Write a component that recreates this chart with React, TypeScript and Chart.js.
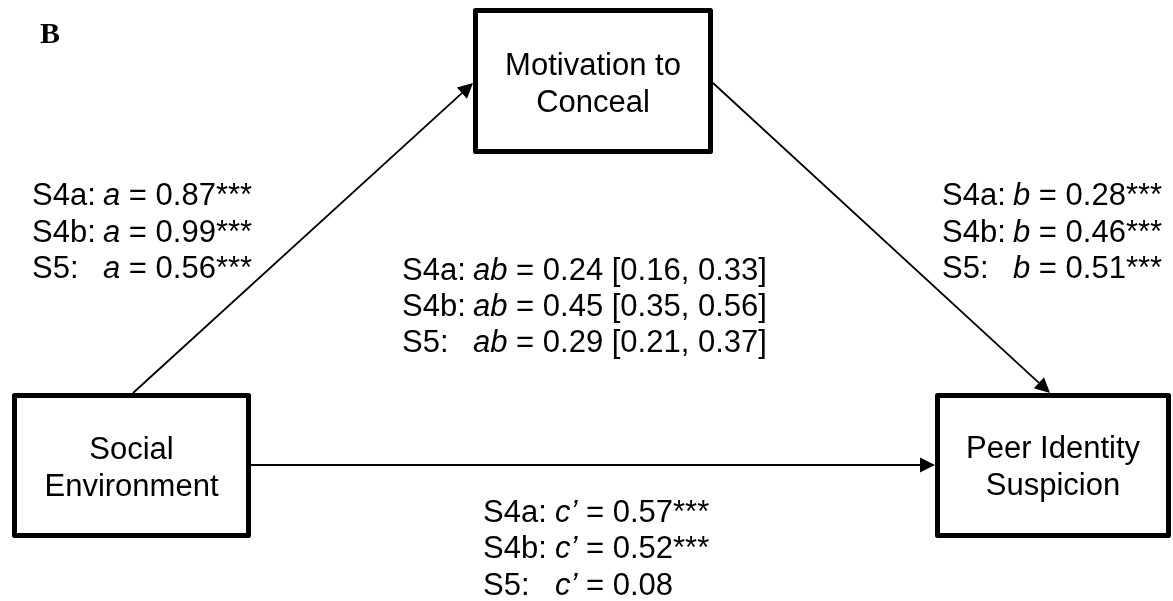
import React, { useEffect, useRef } from "react";
import { Chart, registerables } from "chart.js";

Chart.register(...registerables);

// ---- data ----
const studies = ["S4a", "S4b", "S5"];
const aValues = [0.87, 0.99, 0.56];
const aSig = ["***", "***", "***"];
const bValues = [0.28, 0.46, 0.51];
const bSig = ["***", "***", "***"];
const abValues = [0.24, 0.45, 0.29];
const abLower = [0.16, 0.35, 0.21];
const abUpper = [0.33, 0.56, 0.37];
const cValues = [0.57, 0.52, 0.08];
const cSig = ["***", "***", ""];
const nodeLabels = [
  ["Motivation to", "Conceal"],
  ["Social", "Environment"],
  ["Peer Identity", "Suspicion"],
];
const panelLabel = "B";

// ---- layout (data units == pixels on a 1173x601 scale) ----
const W = 1173;
const H = 601;
const boxes = [
  { x1: 475.5, y1: 10.5, x2: 710.5, y2: 151.5, ty: [75, 112] },
  { x1: 14.5, y1: 395.5, x2: 248.5, y2: 535.5, ty: [459, 496] },
  { x1: 937.5, y1: 395.5, x2: 1168.5, y2: 535.5, ty: [458, 495] },
];
const arrows = [
  { from: [133, 393], to: [473, 83] },
  { from: [713, 83], to: [1050, 393] },
  { from: [251, 465], to: [935, 465] },
];
const FONT = "Arial, 'Liberation Sans', sans-serif";
const FS = 31;

function fmt(v: number) {
  return v.toFixed(2);
}

export default function App() {
  const ref = useRef<HTMLCanvasElement>(null);
  useEffect(() => {
    if (!ref.current) return;
    const diagram = {
      id: "diagram",
      afterDraw(chart: any) {
        const ctx = chart.ctx as CanvasRenderingContext2D;
        const xs = chart.scales.x;
        const ys = chart.scales.y;
        const px = (v: number) => xs.getPixelForValue(v);
        const py = (v: number) => ys.getPixelForValue(v);

        const text = (t: string, x: number, y: number, font: string, align: CanvasTextAlign = "left") => {
          ctx.save();
          ctx.font = font;
          ctx.fillStyle = "#000";
          ctx.textBaseline = "alphabetic";
          ctx.textAlign = align;
          ctx.fillText(t, x, y);
          const w = ctx.measureText(t).width;
          ctx.restore();
          return w;
        };
        const normal = `${FS}px ${FONT}`;
        const italic = `italic ${FS}px ${FONT}`;

        // panel label
        text(panelLabel, px(40), py(43), "bold 30px 'Liberation Serif', 'Times New Roman', serif");

        // boxes
        boxes.forEach((b, i) => {
          ctx.save();
          ctx.lineWidth = 5;
          ctx.strokeStyle = "#000";
          ctx.lineJoin = "round";
          ctx.strokeRect(px(b.x1), py(b.y1), px(b.x2) - px(b.x1), py(b.y2) - py(b.y1));
          ctx.restore();
          const cx = (px(b.x1) + px(b.x2)) / 2;
          nodeLabels[i].forEach((ln, j) => text(ln, cx, py(b.ty[j]), normal, "center"));
        });

        // arrows
        arrows.forEach((a) => {
          const x0 = px(a.from[0]), y0 = py(a.from[1]);
          const x1 = px(a.to[0]), y1 = py(a.to[1]);
          const ang = Math.atan2(y1 - y0, x1 - x0);
          const L = 15, HW = 7.5;
          const bx = x1 - L * Math.cos(ang), by = y1 - L * Math.sin(ang);
          ctx.save();
          ctx.strokeStyle = "#000";
          ctx.lineWidth = 1.8;
          ctx.beginPath();
          ctx.moveTo(x0, y0);
          ctx.lineTo(bx, by);
          ctx.stroke();
          ctx.fillStyle = "#000";
          ctx.beginPath();
          ctx.moveTo(x1, y1);
          ctx.lineTo(bx + HW * Math.sin(ang), by - HW * Math.cos(ang));
          ctx.lineTo(bx - HW * Math.sin(ang), by + HW * Math.cos(ang));
          ctx.closePath();
          ctx.fill();
          ctx.restore();
        });

        // coefficient labels
        const block = (x0: number, off: number, baselines: number[], sym: string, rest: (i: number) => string) => {
          studies.forEach((s, i) => {
            const y = py(baselines[i]);
            text(s + ":", px(x0), y, normal);
            const xi = px(x0 + off);
            const w = text(sym, xi, y, italic);
            text(" " + rest(i), xi + w, y, normal);
          });
        };
        block(32, 71, [205, 242, 278], "a", (i) => `= ${fmt(aValues[i])}${aSig[i]}`);
        block(942, 71, [205, 242, 278], "b", (i) => `= ${fmt(bValues[i])}${bSig[i]}`);
        block(402, 71, [280, 316, 352], "ab", (i) => `= ${fmt(abValues[i])} [${fmt(abLower[i])}, ${fmt(abUpper[i])}]`);
        block(483, 72, [522, 558, 595], "c\u2019", (i) => `= ${fmt(cValues[i])}${cSig[i]}`);
      },
    };

    const chart = new Chart(ref.current, {
      type: "scatter",
      data: {
        datasets: [
          {
            data: boxes.map((b) => ({ x: (b.x1 + b.x2) / 2, y: (b.y1 + b.y2) / 2 })),
            pointRadius: 0,
          },
        ],
      },
      options: {
        animation: false,
        responsive: false,
        events: [],
        layout: { padding: 0 },
        scales: {
          x: { type: "linear", min: 0, max: W, display: false },
          y: { type: "linear", min: 0, max: H, reverse: true, display: false },
        },
        plugins: { legend: { display: false }, tooltip: { enabled: false } },
      },
      plugins: [diagram],
    });
    return () => chart.destroy();
  }, []);

  return (
    <div style={{ position: "fixed", left: 0, top: 0, width: W, height: H, background: "#fff" }}>
      <canvas ref={ref} width={W} height={H} style={{ width: W, height: H, display: "block" }} />
    </div>
  );
}
